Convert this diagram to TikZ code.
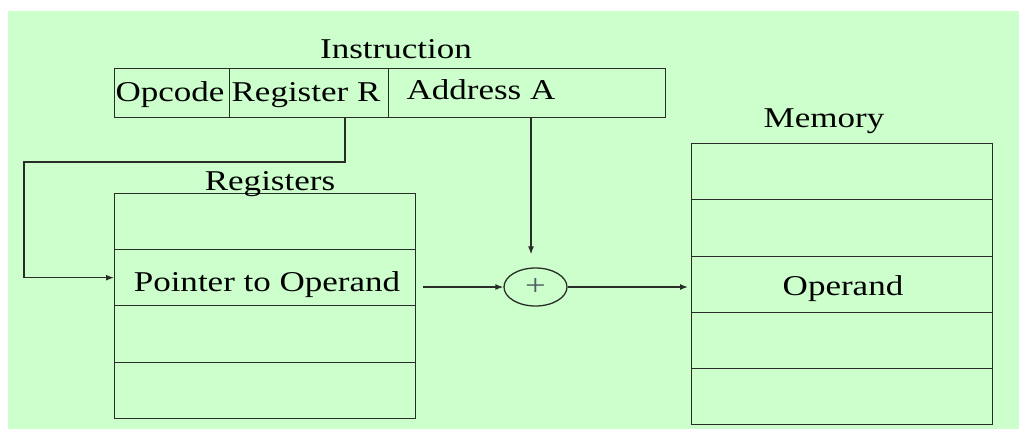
\documentclass[tikz,border=0pt]{standalone}
\usepackage{fontspec}
\setmainfont{Liberation Serif}[FakeStretch=1.22]
\usetikzlibrary{arrows.meta,shapes.geometric}
\definecolor{bg}{RGB}{204,255,204}
\definecolor{ln}{RGB}{40,45,40}
\definecolor{plusc}{RGB}{80,95,100}
\begin{document}
\begin{tikzpicture}[x=1pt,y=-1pt,
  cell/.style={draw=ln,line width=1.4pt,rectangle,inner sep=0pt,anchor=north west},
  lbl/.style={anchor=base,inner sep=0pt,font=\fontsize{28.7}{30}\selectfont},
  conn/.style={draw=ln,line width=1.3pt},
  tip/.style={-{Latex[length=8pt,width=6pt]}}]
\useasboundingbox (0,0) rectangle (1019,429);
\fill[bg] (8,11) rectangle (1019,429);
% Instruction cells
\node[cell,minimum width=115pt,minimum height=49pt] (op) at (114,68) {};
\node[cell,minimum width=159pt,minimum height=49pt] (rr) at (229,68) {};
\node[cell,minimum width=277pt,minimum height=49pt] (aa) at (388,68) {};
\node[lbl] (tinstr) at (396,58) {Instruction};
\node[lbl] (top) at (170,101) {Opcode};
\node[lbl] (trr) at (306,101) {Register R};
\node[lbl] (taa) at (481,99) {Address A};
% Registers
\node[cell,minimum width=301pt,minimum height=56pt] (r1) at (114,193) {};
\node[cell,minimum width=301pt,minimum height=56pt] (r2) at (114,249) {};
\node[cell,minimum width=301pt,minimum height=57pt] (r3) at (114,305) {};
\node[cell,minimum width=301pt,minimum height=56pt] (r4) at (114,362) {};
\node[lbl] (treg) at (270,190) {Registers};
\node[lbl] (tptr) at (267,291) {Pointer to Operand};
% Memory
\node[cell,minimum width=301pt,minimum height=56pt] (m1) at (691,143) {};
\node[cell,minimum width=301pt,minimum height=57pt] (m2) at (691,199) {};
\node[cell,minimum width=301pt,minimum height=56pt] (m3) at (691,256) {};
\node[cell,minimum width=301pt,minimum height=56pt] (m4) at (691,312) {};
\node[cell,minimum width=301pt,minimum height=56pt] (m5) at (691,368) {};
\node[lbl] (tmem) at (824,127) {Memory};
\node[lbl] (topd) at (843,295) {Operand};
% Adder
\node[draw=ln,line width=1.3pt,ellipse,minimum width=63pt,minimum height=38pt,inner sep=0pt,
  font=\fontsize{30}{30}\selectfont,text=plusc] (add) at (535.5,287) {+};
% Connectors
\coordinate (rrb) at (345,117);
\coordinate (aab) at (531,117);
\coordinate (lft) at (24,162);
\draw[conn,tip] (rrb) -- (rrb |- lft) -- (lft) -- (lft |- r2.west) -- (r2.west);
\draw[conn,tip,shorten >=13pt] (aab) -- (aab |- add.north);
\draw[conn,tip,shorten <=7pt] (r2.east |- add.west) -- (add.west);
\draw[conn,tip,shorten >=3pt] (add.east) -- (m3.west |- add.east);
\end{tikzpicture}
\end{document}
